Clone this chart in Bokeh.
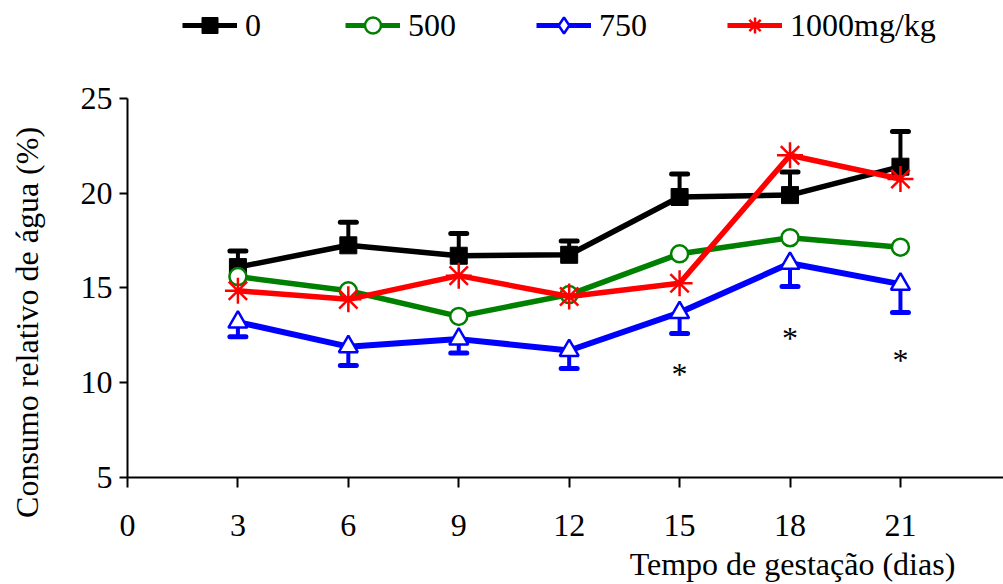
import math
from bokeh.plotting import figure
from bokeh.models import Range1d, FixedTicker, Legend, LegendItem
from bokeh.core.properties import value
from bokeh.embed import file_html
from bokeh.resources import INLINE

# ---- data ----
days = [3, 6, 9, 12, 15, 18, 21]
ctrl = [16.1, 17.25, 16.7, 16.75, 19.8, 19.9, 21.4]
ctrl_err = [0.85, 1.22, 1.17, 0.73, 1.21, 1.22, 1.86]      # upper error
d500 = [15.6, 14.85, 13.5, 14.65, 16.8, 17.65, 17.15]
d750 = [13.2, 11.9, 12.3, 11.7, 13.7, 16.3, 15.2]
d750_err = [0.78, 0.99, 0.73, 0.95, 1.1, 1.22, 1.5]        # lower error
d1000 = [14.85, 14.4, 15.65, 14.55, 15.25, 22.0, 20.75]
sig_days = [15, 18, 21]
sig_y = [10.45, 12.35, 11.2]
legend_labels = ["0", "500", "750", "1000mg/kg"]
x_ticks = [0, 3, 6, 9, 12, 15, 18, 21]
y_ticks = [5, 10, 15, 20, 25]
y_title = "Consumo relativo de água (%)"
x_title = "Tempo de gestação (dias)"

FONT = "Liberation Serif"
BLACK, GREEN, BLUE, RED = "#000000", "#008000", "#0000FF", "#FF0000"

# the frame covers the whole canvas; both axes are pinned at (0, 5) and bounded
p = figure(width=1003, height=584, output_backend="svg", toolbar_location=None,
           x_range=Range1d(-3.45, 23.8), y_range=Range1d(-0.65, 30.17),
           min_border_left=0, min_border_right=0, min_border_top=0,
           min_border_bottom=0)
p.outline_line_color = None
p.xgrid.grid_line_color = None
p.ygrid.grid_line_color = None
p.background_fill_color = "white"
p.border_fill_color = "white"

for ax in (p.xaxis[0], p.yaxis[0]):
    ax.axis_line_width = 2
    ax.major_tick_line_width = 2
    ax.major_tick_in = 0
    ax.minor_tick_in = 0
    ax.minor_tick_out = 0
    ax.major_label_text_font = FONT
    ax.major_label_text_font_size = "32px"
    ax.major_label_text_color = "black"
    ax.axis_line_color = "black"
    ax.major_tick_line_color = "black"
p.xaxis[0].ticker = FixedTicker(ticks=x_ticks)
p.yaxis[0].ticker = FixedTicker(ticks=y_ticks)
p.xaxis[0].bounds = (0, 23.8)
p.yaxis[0].bounds = (5, 25)
p.xaxis[0].fixed_location = 5
p.yaxis[0].fixed_location = 0
p.xaxis[0].major_tick_out = 10
p.yaxis[0].major_tick_out = 8
p.xaxis[0].major_label_standoff = 28
p.yaxis[0].major_label_standoff = 7

# axis titles as text
p.text(x=[22.49], y=[0.41], text=[x_title], text_font=value(FONT),
       text_font_size="32px", text_align="right", text_baseline="alphabetic", text_color="black")
p.text(x=[-2.72], y=[13.18], text=[y_title], angle=math.pi / 2, text_font=value(FONT),
       text_font_size="32px", text_align="center", text_baseline="middle", text_color="black")

# ---- series ----
# control (0) with upper error bars
ctrl_hi = [v + e for v, e in zip(ctrl, ctrl_err)]
p.segment(x0=days, y0=ctrl, x1=days, y1=ctrl_hi, line_color=BLACK, line_width=4)
p.scatter(days, ctrl_hi, marker="dash", size=16, line_color=BLACK, line_width=5, line_cap="round")
p.line(days, ctrl, line_color=BLACK, line_width=5.5)
p.scatter(days, ctrl, marker="square", size=17, fill_color=BLACK, line_color=BLACK)

# 500
p.line(days, d500, line_color=GREEN, line_width=5.5)
p.scatter(days, d500, marker="circle", size=17, fill_color="white", line_color=GREEN, line_width=2.5)

# 750 with lower error bars
d750_lo = [v - e for v, e in zip(d750, d750_err)]
p.segment(x0=days, y0=d750, x1=days, y1=d750_lo, line_color=BLUE, line_width=4)
p.scatter(days, d750_lo, marker="dash", size=16, line_color=BLUE, line_width=5, line_cap="round")
p.line(days, d750, line_color=BLUE, line_width=6)
p.scatter(days, d750, marker="triangle", size=19, fill_color="white", line_color=BLUE, line_width=2.5)

# 1000
p.line(days, d1000, line_color=RED, line_width=5.5)
p.scatter(days, d1000, marker="asterisk", size=26, line_color=RED, line_width=2.5)

# significance markers
p.text(x=sig_days, y=sig_y, text=["*"] * len(sig_days), text_font=value(FONT),
       text_font_size="32px", text_align="center", text_baseline="middle", text_color="black")

# ---- legend (off-range dummy renderers so the 750 key shows a diamond) ----
styles = [("square", BLACK, BLACK), ("circle", GREEN, "white"),
          ("diamond", BLUE, "white"), ("asterisk", RED, RED)]
items = []
for lab, (mk, col, fill) in zip(legend_labels, styles):
    rl = p.line([-100, -99], [-100, -100], line_color=col, line_width=5)
    rs = p.scatter([-100], [-100], marker=mk, size=16, line_color=col, fill_color=fill,
                   line_width=2.5 if mk != "square" else 1)
    items.append(LegendItem(label=lab, renderers=[rl, rs]))
legend = Legend(items=items, orientation="horizontal", location=(182, 539),
                glyph_width=55, glyph_height=40, label_standoff=8, spacing=80,
                padding=0, margin=0, label_text_font=FONT, label_text_font_size="32px",
                label_text_color="black",
                background_fill_alpha=0, border_line_alpha=0)
p.add_layout(legend, "center")

open("out.html", "w").write(file_html(p, INLINE))
